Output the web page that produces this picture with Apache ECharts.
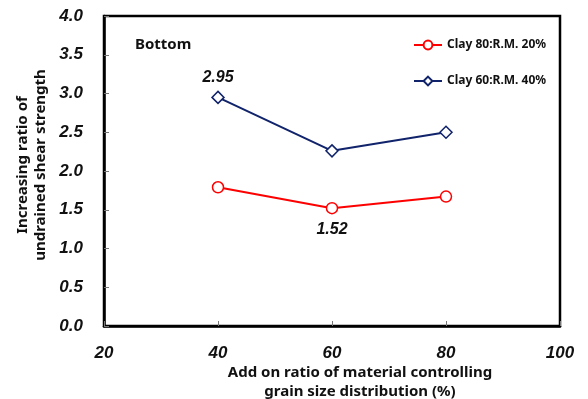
<!DOCTYPE html>
<html><head><meta charset="utf-8">
<script src="https://cdn.jsdelivr.net/npm/echarts@6/dist/echarts.min.js"></script>
<style>html,body{margin:0;padding:0;background:#fff}#c{width:588px;height:399px}</style>
</head><body><div id="c"></div>
<script>
const xValues = [40, 60, 80];
const red = [1.79, 1.52, 1.67];
const blue = [2.95, 2.26, 2.50];
const seriesNames = ['Clay 80:R.M. 20%', 'Clay 60:R.M. 40%'];
const xTicks = [20, 40, 60, 80, 100];
const yTicks = [0, 0.5, 1, 1.5, 2, 2.5, 3, 3.5, 4];

const chart = echarts.init(document.getElementById('c'));
const txtFont = '"Noto Sans", "Noto Sans CJK KR", sans-serif';
const numFont = '"Liberation Sans", Arial, sans-serif';
chart.setOption({
  animation: false,
  grid: {left: 104, right: 28, top: 16, bottom: 73, outerBoundsMode: 'none', containLabel: false,
    show: true, borderColor: '#000', borderWidth: 2.5, backgroundColor: 'transparent'},
  legend: {
    orient: 'vertical', left: 408, top: 34, itemGap: 24, itemWidth: 28, itemHeight: 11,
    data: seriesNames,
    textStyle: {fontFamily: txtFont, fontSize: 12, fontWeight: 'bold', color: '#111'}
  },
  xAxis: {
    type: 'value', min: 20, max: 100, interval: 20,
    axisLine: {show: true, lineStyle: {color: '#000', width: 2.5}},
    axisTick: {show: true, inside: true, length: 5, lineStyle: {color: '#777', width: 1}},
    splitLine: {show: false},
    axisLabel: {margin: 19, fontFamily: numFont, fontSize: 17, fontWeight: 'bold', fontStyle: 'italic', color: '#111',
      formatter: v => xTicks.includes(v) ? String(v) : ''},
    name: 'Add on ratio of material controlling\ngrain size distribution (%)',
    nameLocation: 'middle', nameGap: 37, nameMoveOverlap: false,
    nameTextStyle: {fontFamily: txtFont, fontSize: 15, fontWeight: 'bold', color: '#111', lineHeight: 19, padding: [0, 0, 0, 56]}
  },
  yAxis: {
    type: 'value', min: 0, max: 4, interval: 0.5,
    axisLine: {show: true, lineStyle: {color: '#000', width: 2.5}},
    axisTick: {show: true, inside: true, length: 5, lineStyle: {color: '#777', width: 1}},
    splitLine: {show: false},
    axisLabel: {margin: 21, fontFamily: numFont, fontSize: 17, fontWeight: 'bold', fontStyle: 'italic', color: '#111',
      formatter: v => yTicks.includes(v) ? v.toFixed(1) : ''},
    name: 'Increasing ratio of\nundrained shear strength',
    nameLocation: 'middle', nameGap: 54, nameRotate: 90, nameMoveOverlap: false,
    nameTextStyle: {fontFamily: txtFont, fontSize: 15, fontWeight: 'bold', color: '#111', lineHeight: 18, padding: [0, 0, 0, 12]}
  },
  graphic: [{
    type: 'text', left: 135, top: 37,
    style: {text: 'Bottom', fontFamily: txtFont, fontSize: 15, fontWeight: 'bold', fill: '#111'}
  }],
  series: [
    {
      name: seriesNames[0], type: 'line',
      data: xValues.map((x, i) => [x, red[i]]),
      symbol: 'circle', symbolSize: 11,
      lineStyle: {color: '#ff0000', width: 2},
      itemStyle: {color: '#fff', borderColor: '#ff0000', borderWidth: 1.5},
      label: {show: true, formatter: p => p.dataIndex === 1 ? '1.52' : '', position: 'bottom', distance: 7,
        fontFamily: numFont, fontSize: 16, fontWeight: 'bold', fontStyle: 'italic', color: '#111'},
      z: 3
    },
    {
      name: seriesNames[1], type: 'line',
      data: xValues.map((x, i) => [x, blue[i]]),
      symbol: 'diamond', symbolSize: 12,
      lineStyle: {color: '#10236b', width: 2},
      itemStyle: {color: '#fff', borderColor: '#10236b', borderWidth: 1.5},
      label: {show: true, formatter: p => p.dataIndex === 0 ? '2.95' : '', position: 'top', distance: 5,
        fontFamily: numFont, fontSize: 16, fontWeight: 'bold', fontStyle: 'italic', color: '#111'},
      z: 3
    }
  ]
});
</script></body></html>
